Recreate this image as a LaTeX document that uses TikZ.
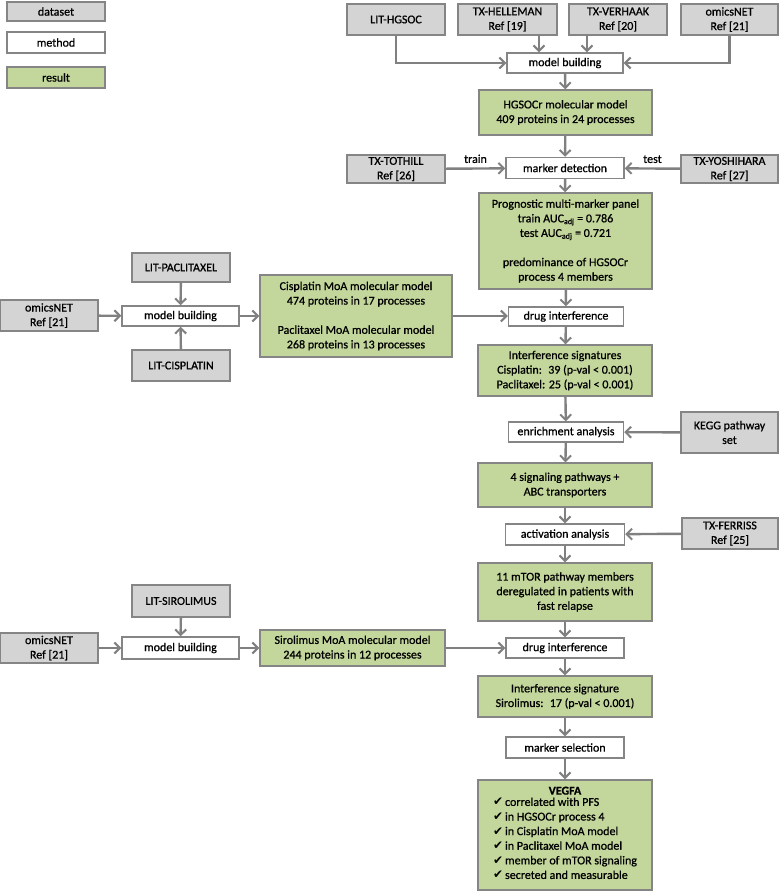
\documentclass[tikz,border=0pt]{standalone}
\usepackage{fontspec}
\setmainfont[FakeBold=0.8]{Carlito}
\newfontfamily\chkfont{DejaVu Sans}
\usetikzlibrary{positioning, arrows.meta}
\definecolor{boxgray}{HTML}{858585}
\definecolor{dsgray}{HTML}{D4D4D4}
\definecolor{resgreen}{HTML}{C3D69B}
\definecolor{flowgray}{HTML}{808080}
\newcommand{\chk}{{\chkfont ✔}\,}

\begin{document}
\begin{tikzpicture}[x=1pt,y=-1pt,
  box/.style={draw=boxgray,line width=1.4pt,inner sep=0pt,align=center,
    font=\fontsize{12}{14.6}\selectfont,text=black},
  dset/.style={box,fill=dsgray},
  meth/.style={box,fill=white},
  res/.style={box,fill=resgreen},
  flow/.style={draw=flowgray,line width=2.4pt,-{Straight Barb[length=5.5pt,width=11pt,line width=2pt]}}]
\useasboundingbox (0,0) rectangle (780,891);

% legend
\node[dset,minimum width=98pt,minimum height=19pt] (lgdata) at (56,11.5) {dataset};
\node[meth,minimum width=98pt,minimum height=21pt] (lgmeth) at (56,42.5) {method};
\node[res,minimum width=98pt,minimum height=21pt] (lgres) at (56,77.5) {result};

% HGSOCr model
\node[dset,minimum width=98pt,minimum height=31pt] (hgsoc) at (396,19.5) {LIT-HGSOC};
\node[dset,minimum width=99pt,minimum height=31pt] (helleman) at (507.5,19.5) {TX-HELLEMAN\\Ref [19]};
\node[dset,minimum width=98pt,minimum height=31pt] (verhaak) at (618,19.5) {TX-VERHAAK\\Ref [20]};
\node[dset,minimum width=97pt,minimum height=31pt] (omicsA) at (729.5,19.5) {omicsNET\\Ref [21]};
\node[meth,minimum width=116pt,minimum height=20pt] (buildA) at (565,63) {model building};
\node[res,minimum width=173pt,minimum height=45pt] (hgsocr) at (565.5,112.5) {HGSOCr molecular model\\409 proteins in 24 processes};
\coordinate (inA) at ([xshift=-26pt]buildA.north);
\coordinate (inB) at ([xshift=22pt]buildA.north);
\draw[flow] (hgsoc) |- (buildA);
\draw[flow] (helleman.south -| inA) -- (inA);
\draw[flow] (verhaak.south -| inB) -- (inB);
\draw[flow] (omicsA) |- (buildA);
\draw[flow] (buildA) -- (hgsocr);

% marker panel
\node[dset,minimum width=98pt,minimum height=28pt] (tothill) at (396,169) {TX-TOTHILL\\Ref [26]};
\node[meth,minimum width=118pt,minimum height=21pt] (detect) at (565,168) {marker detection};
\node[dset,minimum width=97pt,minimum height=28pt] (yoshihara) at (729.5,169) {TX-YOSHIHARA\\Ref [27]};
\node[res,minimum width=173pt,minimum height=96pt] (panel) at (565.5,241)
  {Prognostic multi-marker panel\\train AUC\textsubscript{adj} = 0.786\\test AUC\textsubscript{adj} = 0.721\\[14.6pt]predominance of HGSOCr\\process 4 members};
\draw[flow] (hgsocr) -- (detect);
\draw[flow] (tothill) -- node[above=1pt,font=\fontsize{12}{14.6}\selectfont] {train} (detect);
\draw[flow] (yoshihara) -- node[above=1pt,font=\fontsize{12}{14.6}\selectfont] {test} (detect);
\draw[flow] (detect) -- (panel);

% cisplatin / paclitaxel
\node[dset,minimum width=98pt,minimum height=29pt] (paclit) at (181,267.5) {LIT-PACLITAXEL};
\node[dset,minimum width=98pt,minimum height=31pt] (omicsB) at (49,315.5) {omicsNET\\Ref [21]};
\node[meth,minimum width=117pt,minimum height=20pt] (buildB) at (180.5,316) {model building};
\node[dset,minimum width=98pt,minimum height=31pt] (cisplat) at (181,365.5) {LIT-CISPLATIN};
\node[res,minimum width=192pt,minimum height=82pt] (moamodel) at (356,316)
  {Cisplatin MoA molecular model\\474 proteins in 17 processes\\[14.6pt]Paclitaxel MoA molecular model\\268 proteins in 13 processes};
\node[meth,minimum width=115pt,minimum height=19pt] (drugA) at (566,316.5) {drug interference};
\node[res,minimum width=174pt,minimum height=51pt] (signatA) at (565,370.5)
  {Interference signatures\\Cisplatin:~ 39 (p-val < 0.001)\\Paclitaxel: 25 (p-val < 0.001)};
\draw[flow] (paclit) -- (buildB);
\draw[flow] (cisplat) -- (buildB);
\draw[flow] (omicsB) -- (buildB);
\draw[flow] (buildB) -- (moamodel);
\draw[flow] (moamodel) -- (moamodel -| drugA.west);
\draw[flow] (panel) -- (drugA);
\draw[flow] (drugA) -- (signatA);

% pathways
\node[meth,minimum width=115pt,minimum height=20pt] (enrich) at (566,432) {enrichment analysis};
\node[dset,minimum width=97pt,minimum height=41pt] (kegg) at (729.5,432.5) {KEGG pathway\\set};
\node[res,minimum width=174pt,minimum height=44pt] (pathways) at (565,485) {4 signaling pathways +\\ABC transporters};
\node[meth,minimum width=119pt,minimum height=21pt] (activ) at (565,534.5) {activation analysis};
\node[dset,minimum width=96pt,minimum height=31pt] (ferriss) at (730,533.5) {TX-FERRISS\\Ref [25]};
\node[res,minimum width=174pt,minimum height=58pt] (mtor) at (565,592)
  {11 mTOR pathway members\\deregulated in patients with\\fast relapse};
\draw[flow] (signatA) -- (enrich);
\draw[flow] (kegg) -- (enrich);
\draw[flow] (enrich) -- (pathways);
\draw[flow] (pathways) -- (activ);
\draw[flow] (ferriss) -- (activ);
\draw[flow] (activ) -- (mtor);

% sirolimus
\node[dset,minimum width=98pt,minimum height=32pt] (sirol) at (181,601) {LIT-SIROLIMUS};
\node[dset,minimum width=98pt,minimum height=30pt] (omicsC) at (49,648) {omicsNET\\Ref [21]};
\node[meth,minimum width=117pt,minimum height=22pt] (buildC) at (180.5,648) {model building};
\node[res,minimum width=185pt,minimum height=36pt] (sirmodel) at (352.5,648)
  {Sirolimus MoA molecular model\\244 proteins in 12 processes};
\node[meth,minimum width=118pt,minimum height=20pt] (drugB) at (565,648) {drug interference};
\node[res,minimum width=174pt,minimum height=41pt] (signatB) at (565,696.5)
  {Interference signature\\Sirolimus:~ 17 (p-val < 0.001)};
\node[meth,minimum width=118pt,minimum height=21pt] (select) at (565,747.5) {marker selection};
\node[res,minimum width=174pt,minimum height=110pt] (vegfa) at (565,835)
  {\textbf{VEGFA}\\
   \begin{tabular}{@{}l@{}}
   \chk correlated with PFS\\
   \chk in HGSOCr process 4\\
   \chk in Cisplatin MoA model\\
   \chk in Paclitaxel MoA model\\
   \chk member of mTOR signaling\\
   \chk secreted and measurable
   \end{tabular}};
\draw[flow] (sirol) -- (buildC);
\draw[flow] (omicsC) -- (buildC);
\draw[flow] (buildC) -- (sirmodel);
\draw[flow] (sirmodel) -- (drugB);
\draw[flow] (mtor) -- (drugB);
\draw[flow] (drugB) -- (signatB);
\draw[flow] (signatB) -- (select);
\draw[flow] (select) -- (vegfa);
\end{tikzpicture}
\end{document}
